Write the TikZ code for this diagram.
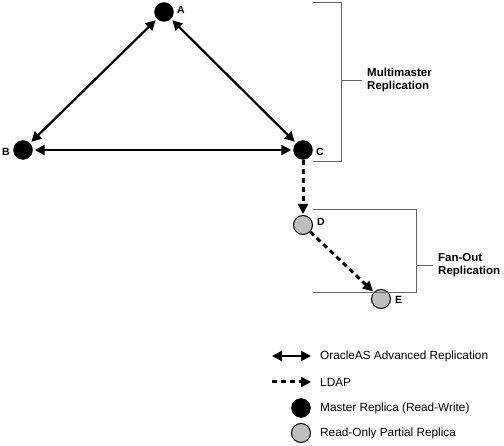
\documentclass[tikz,border=0pt]{standalone}
\usepackage{fontspec}
\setmainfont{Liberation Sans}
\usetikzlibrary{arrows.meta}
\begin{document}
\begin{tikzpicture}[x=1pt,y=-1pt,
  master/.style={circle,fill=black,draw=black,minimum size=19pt,inner sep=0pt},
  partial/.style={circle,fill=black!25,draw=black,line width=1pt,minimum size=19pt,inner sep=0pt},
  lbl/.style={font=\bfseries\fontsize{10.5}{12}\selectfont,inner sep=0pt,anchor=west},
  grp/.style={font=\bfseries\fontsize{11.5}{13}\selectfont,inner sep=0pt,anchor=west,align=left},
  leg/.style={font=\fontsize{11.8}{13}\selectfont,inner sep=0pt,anchor=west},
  rep/.style={line width=2.2pt,{Triangle[length=10pt,width=10pt]}-{Triangle[length=10pt,width=10pt]},shorten <=2pt,shorten >=2pt},
  ldap/.style={line width=3pt,dash pattern=on 5pt off 4pt,-{Triangle[length=10pt,width=10pt]},shorten >=1pt},
  brk/.style={draw=black!60,line width=0.8pt}]
\useasboundingbox (0,0) rectangle (504,446);
\node[master] (A) at (164,12) {};
\node[master] (B) at (23,150) {};
\node[master] (C) at (303,150) {};
\node[partial] (D) at (303,225) {};
\node[partial] (E) at (381,299) {};
\node[lbl] (la) at (177,10) {A};
\node[lbl] (lb) at (2,152) {B};
\node[lbl] (lc) at (316,152) {C};
\node[lbl] (ld) at (317,222) {D};
\node[lbl] (le) at (395,300) {E};
\draw[rep] (A) -- (B);
\draw[rep] (A) -- (C);
\draw[rep] (B) -- (C);
\draw[ldap] (C) -- (D);
\draw[ldap] (D) -- (E);
% brackets
\coordinate (m1) at (313,2);
\coordinate (m2) at (341,2);
\coordinate (m3) at (341,161);
\coordinate (m4) at (313,161);
\coordinate (mt) at (341,80);
\coordinate (mte) at (362,80);
\draw[brk] (m1) -- (m2) -- (m3) -- (m4);
\draw[brk] (mt) -- (mte);
\node[grp] (mm) at (367,80) {Multimaster\\Replication};
\coordinate (f1) at (313,209);
\coordinate (f2) at (416,209);
\coordinate (f3) at (416,292);
\coordinate (f4) at (313,292);
\coordinate (ft) at (416,265);
\coordinate (fte) at (433,265);
\draw[brk] (f1) -- (f2) -- (f3) -- (f4);
\draw[brk] (ft) -- (fte);
\node[grp] (fo) at (438,265) {Fan-Out\\Replication};
% legend
\coordinate (l1a) at (272,356);
\coordinate (l1b) at (311,356);
\draw[line width=2.2pt,{Triangle[length=10pt,width=10pt]}-{Triangle[length=10pt,width=10pt]}] (l1a) -- (l1b);
\node[leg] (t1) at (320,356) {OracleAS Advanced Replication};
\coordinate (l2a) at (272,382);
\coordinate (l2b) at (311,382);
\draw[line width=3pt,dash pattern=on 5pt off 4pt,-{Triangle[length=10pt,width=10pt]}] (l2a) -- (l2b);
\node[leg] (t2) at (320,382) {LDAP};
\node[master] (lm) at (301,408) {};
\node[leg] (t3) at (320,408) {Master Replica (Read-Write)};
\node[partial] (lp) at (301,433) {};
\node[leg] (t4) at (320,433) {Read-Only Partial Replica};
\end{tikzpicture}
\end{document}
